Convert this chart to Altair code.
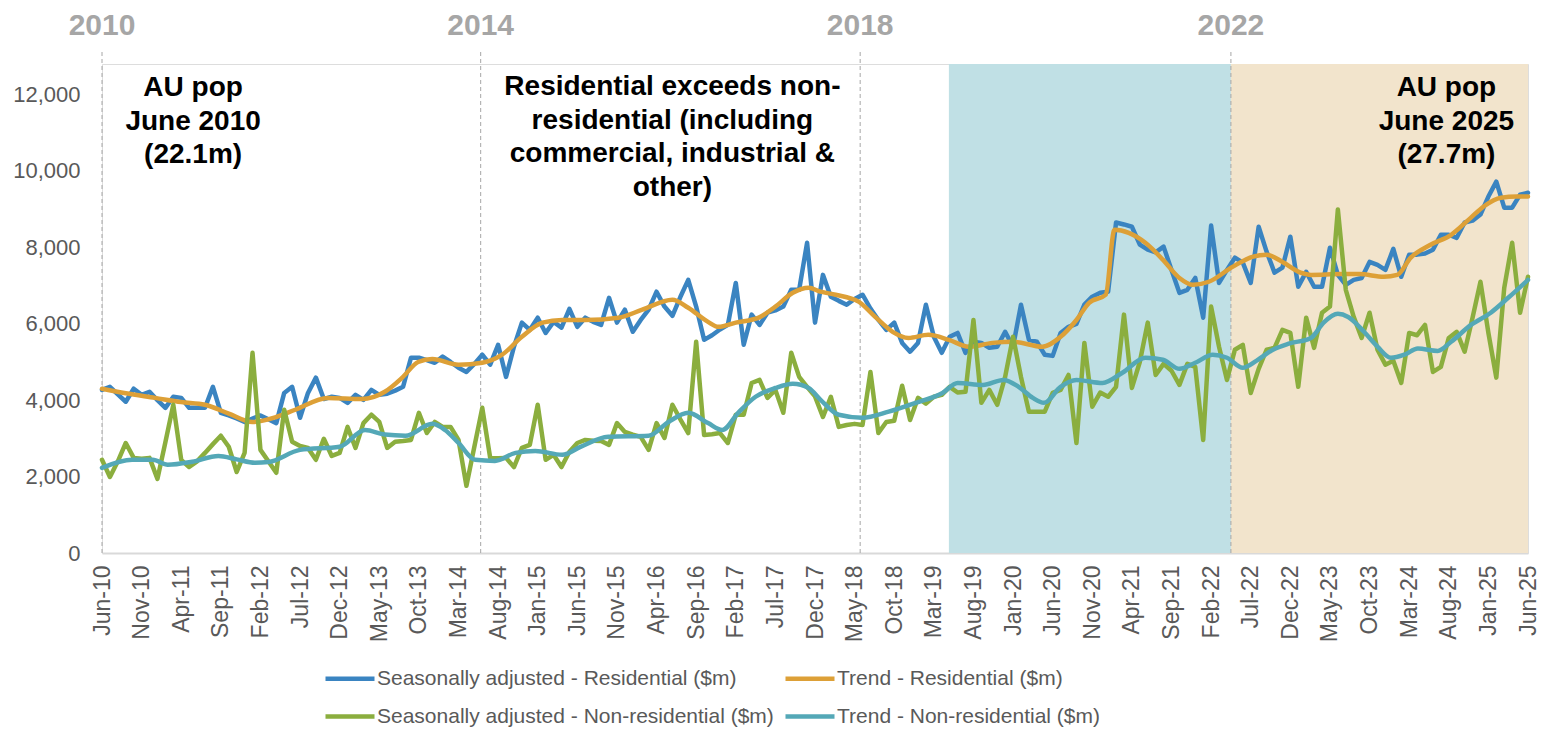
import altair as alt
import pandas as pd

FONT = "Liberation Sans"

# ---------------- data ----------------
series_names = [
    "Seasonally adjusted - Residential ($m)",
    "Seasonally adjusted - Non-residential ($m)",
    "Trend - Residential ($m)",
    "Trend - Non-residential ($m)",
]
series_colors = ["#3A84C1", "#8BAE3E", "#DDA037", "#54A8B7"]

# x tick labels, every 5 months from Jun-10 (month index 0) to Jun-25 (month index 180)
tick_labels = ["Jun-10", "Nov-10", "Apr-11", "Sep-11", "Feb-12", "Jul-12", "Dec-12", "May-13",
               "Oct-13", "Mar-14", "Aug-14", "Jan-15", "Jun-15", "Nov-15", "Apr-16", "Sep-16",
               "Feb-17", "Jul-17", "Dec-17", "May-18", "Oct-18", "Mar-19", "Aug-19", "Jan-20",
               "Jun-20", "Nov-20", "Apr-21", "Sep-21", "Feb-22", "Jul-22", "Dec-22", "May-23",
               "Oct-23", "Mar-24", "Aug-24", "Jan-25", "Jun-25"]

# monthly seasonally adjusted values, Jun-10 .. Jun-25
sa_residential = [
    4270, 4350, 4150, 3960, 4300, 4140, 4220, 4000, 3800, 4090,
    4060, 3800, 3800, 3800, 4350, 3670, 3600, 3520, 3430, 3520,
    3600, 3500, 3400, 4190, 4350, 3540, 4190, 4590, 4030, 4090,
    4060, 3930, 4140, 4010, 4270, 4140, 4170, 4250, 4350, 5110,
    5110, 5050, 4980, 5140, 5000, 4850, 4740, 4950, 5190, 4930,
    5450, 4610, 5400, 6030, 5840, 6160, 5760, 6050, 5900, 6390,
    5920, 6160, 6050, 5970, 6680, 6030, 6370, 5790, 6100, 6370,
    6840, 6450, 6210, 6700, 7150, 6450, 5580, 5700, 5850, 5970,
    7070, 5450, 6240, 5970, 6290, 6350, 6450, 6890, 6890, 8120,
    6030, 7280, 6710, 6600, 6500, 6650, 6760, 6400, 6100, 5840,
    6030, 5500, 5270, 5500, 6500, 5660, 5240, 5660, 5760, 5240,
    5530, 5500, 5370, 5400, 5790, 5400, 6500, 5580, 5530, 5190,
    5160, 5760, 5920, 6000, 6500, 6710, 6810, 6840, 8650, 8600,
    8540, 8070, 7940, 7870, 8020, 7410, 6810, 6890, 7200, 6160,
    8570, 7070, 7410, 7730, 7600, 7070, 8540, 7890, 7340, 7470,
    8280, 6970, 7360, 6970, 6970, 7990, 7280, 7020, 7150, 7200,
    7620, 7540, 7410, 7960, 7230, 7810, 7810, 7840, 7940, 8330,
    8330, 8250, 8650, 8700, 8860, 9330, 9720, 9040, 9040, 9380,
    9430]

sa_non_residential = [
    2440, 1990, 2400, 2880, 2490, 2470, 2490, 1940, 2900, 3880,
    2440, 2250, 2400, 2620, 2850, 3070, 2780, 2120, 2620, 5240,
    2700, 2400, 2100, 3750, 2910, 2800, 2750, 2440, 2990, 2540,
    2620, 3300, 2750, 3400, 3620, 3430, 2750, 2910, 2930, 2960,
    3670, 3140, 3430, 3300, 3300, 2960, 1760, 2780, 3800, 2490,
    2480, 2490, 2250, 2750, 2830, 3880, 2440, 2570, 2250, 2650,
    2880, 2960, 2940, 2930, 2830, 3400, 3170, 3100, 3040, 2700,
    3400, 3010, 3880, 3500, 3140, 5530, 3090, 3110, 3140, 2880,
    3620, 3620, 4450, 4530, 4060, 4270, 3670, 5240, 4610, 4350,
    4100, 3560, 4090, 3300, 3350, 3380, 3350, 4740, 3140, 3430,
    3460, 4380, 3480, 4060, 3910, 4090, 4140, 4350, 4200, 4220,
    6100, 3930, 4270, 3880, 4610, 5660, 4610, 3700, 3700, 3700,
    4190, 4270, 4660, 2880, 5500, 3830, 4200, 4090, 4350, 6240,
    4320, 5000, 6030, 4660, 4950, 4770, 4400, 4950, 4870, 2960,
    6450, 5400, 4530, 5320, 5450, 4190, 4820, 5320, 5370, 5840,
    5760, 4350, 6160, 5370, 6290, 6450, 8990, 6890, 6180, 5630,
    6290, 5320, 4930, 5030, 4450, 5760, 5700, 5970, 4740, 4870,
    5630, 5790, 5270, 6160, 7100, 5760, 4590, 6940, 8120, 6290,
    7230]

# trend series read at the month positions below (month index from Jun-10)
trend_res_months = [0, 3, 6.7, 10, 13, 16, 19, 22, 24.4, 28.5, 32.8, 35.7, 37.9, 39.9, 41.7,
                    45, 48, 50.5, 53, 55.6, 58.1, 61, 65.2, 68.2, 72, 74, 76.5, 77.8, 80, 82.9,
                    85, 87.2, 89.2, 90.7, 92.6, 95.5, 97.6, 99.8, 101.8, 104.3, 106.9, 109.4,
                    112.4, 115, 118.7, 121, 123, 124.6, 126.7, 127.8, 129.6, 131.7, 133.9, 136,
                    137.7, 139.7, 142.7, 145.3, 147, 149, 151.3, 152.6, 156.4, 158.7, 161.8,
                    163.5, 165.2, 167.7, 170.3, 172.8, 174.4, 176.6, 178.6, 180]
trend_residential = [4300, 4180, 4060, 3950, 3880, 3650, 3430, 3560, 3750, 4060, 4030, 4220,
                     4590, 5000, 5080, 4930, 4980, 5190, 5660, 6030, 6100, 6100, 6160, 6370,
                     6630, 6420, 6050, 5920, 6030, 6160, 6450, 6810, 6940, 6840, 6760, 6580,
                     6180, 5790, 5630, 5710, 5580, 5400, 5500, 5530, 5400, 5660, 6100, 6550,
                     6760, 8460, 8380, 8120, 7680, 7200, 7020, 7100, 7490, 7760, 7810, 7620,
                     7340, 7280, 7300, 7300, 7230, 7280, 7730, 8070, 8330, 8780, 9070, 9300,
                     9330, 9330]

trend_nonres_months = [0, 3.8, 6.4, 8.3, 11.4, 14.7, 17, 19.3, 21, 25, 30, 33.2, 35.7, 38.3,
                       41.7, 43.3, 45, 47.1, 49.6, 52.2, 54.7, 58.1, 60.4, 63.9, 69, 71.5, 74,
                       76.5, 78.3, 80.3, 82.5, 85, 87.2, 89.2, 90.7, 93, 96, 99.3, 102.7, 106.1,
                       108, 111.2, 113.8, 115.7, 117.5, 118.9, 121, 123, 126.3, 128.8, 131.7,
                       133.9, 136, 138, 140.2, 142, 144, 145.7, 147.8, 149.8, 152.6, 154.2, 156,
                       157.3, 159.3, 161, 162.7, 164.4, 166.1, 168.6, 170.3, 172.8, 175.3,
                       177.5, 180]
trend_non_residential = [2230, 2440, 2440, 2310, 2390, 2540, 2450, 2360, 2380, 2700, 2780,
                         3220, 3100, 3070, 3380, 3220, 2880, 2440, 2410, 2620, 2670, 2570,
                         2780, 3040, 3070, 3430, 3670, 3400, 3220, 3670, 4090, 4320, 4430,
                         4320, 4010, 3620, 3540, 3700, 3930, 4190, 4450, 4400, 4530, 4350,
                         4060, 3930, 4350, 4530, 4450, 4720, 5110, 5060, 4820, 4980, 5190,
                         5110, 4850, 5030, 5320, 5480, 5630, 6030, 6260, 6180, 5790, 5400,
                         5110, 5190, 5350, 5290, 5530, 5970, 6290, 6680, 7150]

# period markers (month index) and labels
marker_months = [0, 47.8, 95.7, 142.5]
marker_labels = ["2010", "2014", "2018", "2022"]

# shaded periods (month index)
shade_start = [106.9, 142.5]
shade_end = [142.5, 180]
shade_names = ["period1", "period2"]
shade_colors = ["#C0E0E5", "#F2E4CC"]

# ---------------- frames ----------------
months = list(range(len(sa_residential)))
df_sa_res = pd.DataFrame({"m": months, "v": sa_residential, "series": series_names[0]})
df_sa_non = pd.DataFrame({"m": months, "v": sa_non_residential, "series": series_names[1]})
df_tr_res = pd.DataFrame({"m": trend_res_months, "v": trend_residential, "series": series_names[2]})
df_tr_non = pd.DataFrame({"m": trend_nonres_months, "v": trend_non_residential, "series": series_names[3]})
df_markers = pd.DataFrame({"m": marker_months, "label": marker_labels})
df_shade = pd.DataFrame({"start": shade_start, "end": shade_end, "shade": shade_names})

label_expr = "[" + ",".join("'%s'" % s for s in tick_labels) + "][round(datum.value/5)]"

x_scale = alt.Scale(domain=[0, 180], nice=False, zero=False)
x_axis = alt.Axis(values=list(range(0, 181, 5)), labelExpr=label_expr, labelAngle=270,
                  labelFont=FONT, labelFontSize=23, labelColor="#595959", ticks=False,
                  tickSize=0, grid=False, domainColor="#D9D9D9", domainWidth=2,
                  labelPadding=12, labelOverlap=False, labelFlush=False, labelBound=False,
                  title=None)
y_scale = alt.Scale(domain=[0, 12800], nice=False, zero=True)
y_axis = alt.Axis(values=list(range(0, 12001, 2000)), format=",.0f", labelFont=FONT,
                  labelFontSize=22, labelColor="#595959", domain=False, ticks=False,
                  tickSize=0, grid=False, labelPadding=22, labelOverlap=False,
                  labelFlush=False, title=None)


def X(field):
    return alt.X(field, type="quantitative", scale=x_scale, axis=x_axis)


def Y(field):
    return alt.Y(field, type="quantitative", scale=y_scale, axis=y_axis)


def XD(val):
    return alt.datum(val, type="quantitative", scale=x_scale, axis=x_axis)


def YD(val):
    return alt.datum(val, type="quantitative", scale=y_scale, axis=y_axis)


legend = alt.Legend(title=None, orient="none", legendX=221, legendY=602, columns=2,
                    symbolType="M-1,0H3.9", symbolSize=400, symbolStrokeWidth=4.5,
                    labelFont=FONT, labelFontSize=21, labelColor="#595959",
                    labelOffset=29, labelLimit=1000, rowPadding=15, columnPadding=2,
                    padding=0)
color = alt.Color("series:N", scale=alt.Scale(domain=series_names, range=series_colors),
                  legend=legend)

shade = alt.Chart(df_shade).mark_rect().encode(
    x=X("start"), x2="end",
    y=YD(0), y2=alt.datum(12800),
    fill=alt.Fill("shade:N", scale=alt.Scale(domain=shade_names, range=shade_colors), legend=None),
)

rules = alt.Chart(df_markers).mark_rule(color="#A6A6A6", strokeWidth=1, strokeDash=[4, 3]).encode(
    x=X("m"), y=YD(0), y2=alt.value(-12)
)

years = alt.Chart(df_markers).mark_text(font=FONT, fontSize=30, fontWeight="bold",
                                        color="#A6A6A6", baseline="middle", align="center").encode(
    x=X("m"), y=alt.value(-38), text="label:N"
)


def line(df, interp):
    return alt.Chart(df).mark_line(strokeWidth=4.5, interpolate=interp, strokeJoin="round",
                                   strokeCap="round").encode(x=X("m"), y=Y("v"), color=color)


l1 = line(df_sa_res, "linear")
l2 = line(df_tr_res, "monotone")
l3 = line(df_sa_non, "linear")
l4 = line(df_tr_non, "monotone")


def note(txt, m, ypix):
    return alt.Chart(pd.DataFrame({"t": [txt]})).mark_text(
        font=FONT, fontSize=28, fontWeight="bold", color="#000000", align="center",
        baseline="middle", lineBreak="\n", lineHeight=33.5).encode(
        x=XD(m), y=alt.value(ypix), text="t:N")


n1 = note("AU pop\nJune 2010\n(22.1m)", 11.5, 24)
n2 = note("Residential exceeds non-\nresidential (including\ncommercial, industrial &\nother)", 72, 23)
n3 = note("AU pop\nJune 2025\n(27.7m)", 169.7, 24)

chart = alt.layer(shade, rules, years, l1, l2, l3, l4, n1, n2, n3).properties(
    width=1426, height=489,
    autosize=alt.AutoSizeParams(type="none"),
    padding={"left": 94, "top": 56, "right": 11, "bottom": 176},
).configure_view(stroke=None).configure(background="white").configure_axisX(
    labelOverlap=False, labelFlush=False
)

chart.save("out.html", embed_options={"renderer": "svg", "actions": False})
